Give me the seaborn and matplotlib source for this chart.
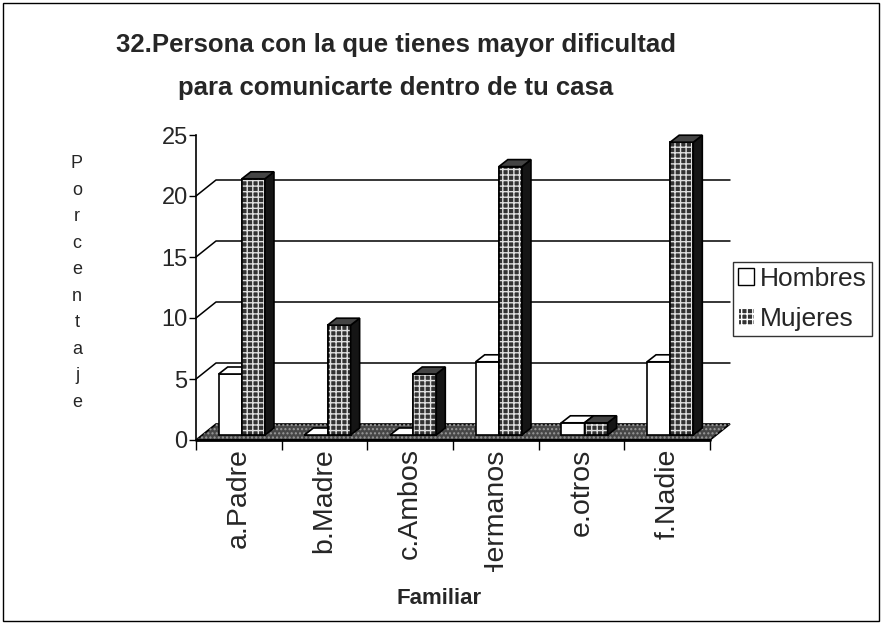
import numpy as np
import pandas as pd
import seaborn as sns
import matplotlib
matplotlib.use("Agg")
import matplotlib.pyplot as plt
from matplotlib.patches import Polygon, Patch, Rectangle
from matplotlib.lines import Line2D
from matplotlib.transforms import IdentityTransform, Bbox

# ---- data -------------------------------------------------------------
categorias = ["a.Padre", "b.Madre", "c.Ambos", "d.Hermanos", "e.otros", "f.Nadie"]
hombres = [5, 0, 0, 6, 1, 6]
mujeres = [21, 9, 5, 22, 1, 24]
series = ["Hombres", "Mujeres"]
y_ticks = [0, 5, 10, 15, 20, 25]

titulo_1 = "32.Persona con la que tienes mayor dificultad"
titulo_2 = "para comunicarte dentro de tu casa"
etiqueta_y = "Porcentaje"
etiqueta_x = "Familiar"

df = pd.DataFrame({
    "Familiar": categorias * 2,
    "Porcentaje": hombres + mujeres,
    "Sexo": [series[0]] * len(categorias) + [series[1]] * len(categorias),
})

# ---- style ------------------------------------------------------------
sns.set_style("white")
plt.rcParams["font.family"] = ["Liberation Sans", "DejaVu Sans"]

W, H = 881, 626
fig = plt.figure(figsize=(W / 100, H / 100), dpi=100)
fig.patch.set_facecolor("white")

M_FACE = "#333333"   # Mujeres front face
M_TOP = "#444444"
M_SIDE = "#151515"

# front plane of the 3-D box (pixels)
x0_px, x1_px = 196, 710
y0_px, y25_px = 440, 135
ax = fig.add_axes([x0_px / W, 1 - y0_px / H, (x1_px - x0_px) / W, (y0_px - y25_px) / H])
ax.patch.set_alpha(0)

pal = {"Hombres": "white", "Mujeres": M_FACE}
sns.barplot(data=df, x="Familiar", y="Porcentaje", hue="Sexo", order=categorias,
            hue_order=series, palette=pal, width=0.54, edgecolor="black",
            linewidth=1.2, saturation=1, legend=False, ax=ax)

ax.set_xlim(-0.5, len(categorias) - 0.5)
ax.set_ylim(0, 25)
ax.set_yticks(y_ticks)
ax.set_xlabel("")
ax.set_ylabel("")
for s in ["top", "right", "bottom"]:
    ax.spines[s].set_visible(False)
ax.spines["left"].set_color("black")
ax.spines["left"].set_linewidth(1.2)
ax.tick_params(axis="y", direction="out", length=5, width=1, color="black",
               labelsize=17, pad=1, left=True)
ax.tick_params(axis="x", which="major", length=0, labelsize=20.5, pad=6)
ax.set_xticks(np.arange(-0.5, len(categorias)), minor=True)
ax.tick_params(axis="x", which="minor", direction="out", length=7, width=1,
               color="black", bottom=True)
for lab in ax.get_xticklabels():
    lab.set_rotation(90)
    lab.set_va("top")
    lab.set_ha("center")

fig.canvas.draw()
T = ax.transData
wall_dx, wall_dy = 20, 16     # depth of the floor / back wall (pixels)
bar_dx, bar_dy = 9, 7         # depth of each column
shift_dx, shift_dy = 3, 5     # columns sit a little behind the front edge

def px(x, y):
    return T.transform((x, y))

ident = IdentityTransform()
xa, xb = -0.5, len(categorias) - 0.5

# back wall gridlines with their diagonal side-wall segments
for v in y_ticks[1:-1]:
    (ax_, ay_) = px(xa, v)
    (bx_, by_) = px(xb, v)
    fig.add_artist(Line2D([ax_, ax_ + wall_dx, bx_ + wall_dx],
                          [ay_, ay_ + wall_dy, by_ + wall_dy],
                          color="black", lw=1.1, transform=ident, zorder=0.5))

# floor
fa = px(xa, 0)
fb = px(xb, 0)
floor_pts = [fa, fb, (fb[0] + wall_dx, fb[1] + wall_dy), (fa[0] + wall_dx, fa[1] + wall_dy)]
fig.add_artist(Polygon(floor_pts, closed=True, facecolor="#474747", edgecolor="black",
                       lw=1.2, transform=ident, zorder=0.8))
fig.add_artist(Polygon(floor_pts, closed=True, facecolor="none", edgecolor="#9a9a9a",
                       lw=0, hatch="....", transform=ident, zorder=0.81))
fig.add_artist(Line2D([fa[0], fb[0]], [fa[1], fb[1]], color="black", lw=2,
                      transform=ident, zorder=0.9))

# columns: front face, top face and right side face
n = len(categorias)
for k, patch in enumerate(ax.patches[:2 * n]):
    is_m = k >= n
    xl, yb = patch.get_x(), patch.get_y()
    w, h = patch.get_width(), patch.get_height()
    p0 = px(xl, yb)
    p1 = px(xl + w, yb + h)
    L, R = p0[0] + shift_dx, p1[0] + shift_dx
    B, Tp = p0[1] + shift_dy, p1[1] + shift_dy
    z = 3.2 if is_m else 3.0
    patch.set_visible(False)
    front_fc = M_FACE if is_m else "white"
    top_fc = M_TOP if is_m else "white"
    side_fc = M_SIDE if is_m else "white"
    rect = [(L, B), (R, B), (R, Tp), (L, Tp)]
    fig.add_artist(Polygon(rect, closed=True, facecolor=front_fc, edgecolor="black",
                           lw=1.2, transform=ident, zorder=z))
    if is_m:
        fig.add_artist(Polygon(rect, closed=True, facecolor="none", edgecolor="#e0e0e0",
                               lw=0, hatch="+++", transform=ident, zorder=z + 0.01))
        fig.add_artist(Polygon(rect, closed=True, facecolor="none", edgecolor="black",
                               lw=1.2, transform=ident, zorder=z + 0.02))
    side = Polygon([(R, B), (R + bar_dx, B + bar_dy), (R + bar_dx, Tp + bar_dy), (R, Tp)],
                   closed=True, facecolor=side_fc, edgecolor="black", lw=1.2,
                   transform=ident, zorder=z + 0.05)
    top = Polygon([(L, Tp), (R, Tp), (R + bar_dx, Tp + bar_dy), (L + bar_dx, Tp + bar_dy)],
                  closed=True, facecolor=top_fc, edgecolor="black", lw=1.2,
                  transform=ident, zorder=z + 0.06)
    fig.add_artist(side)
    fig.add_artist(top)

# the long category label is cut where the chart area ends
clip = Bbox.from_extents(0, H - 572, W, H)
for lab in ax.get_xticklabels():
    lab.set_clip_box(clip)
    lab.set_clip_on(True)

# titles and axis labels
fig.text(396 / W, 1 - 45 / H, titulo_1, ha="center", va="center", fontsize=18.5,
         fontweight="bold")
fig.text(396 / W, 1 - 88 / H, titulo_2, ha="center", va="center", fontsize=18.5,
         fontweight="bold")
fig.text(77 / W, 1 - 283 / H, "\n".join(etiqueta_y), ha="center", va="center",
         fontsize=13, linespacing=1.73)
fig.text(439 / W, 1 - 598 / H, etiqueta_x, ha="center", va="center", fontsize=16,
         fontweight="bold")

# legend
handles = [Patch(facecolor="white", edgecolor="black", lw=1),
           Patch(facecolor=M_FACE, edgecolor="white", hatch="+++", lw=0.8)]
leg = fig.legend(handles, series, loc="upper left", bbox_to_anchor=(733 / W, 1 - 262 / H),
                 frameon=True, fancybox=False, fontsize=19, handlelength=0.6,
                 handleheight=0.6, handletextpad=0.25, labelspacing=0.62,
                 borderpad=0.18, borderaxespad=0)
leg.get_frame().set_edgecolor("black")
leg.get_frame().set_linewidth(1)

# outer border of the chart
fig.add_artist(Rectangle((3 / W, 5 / H), (W - 5) / W, (H - 8) / H, fill=False,
                         edgecolor="black", lw=1, transform=fig.transFigure))

fig.savefig("out.png", dpi=100)
